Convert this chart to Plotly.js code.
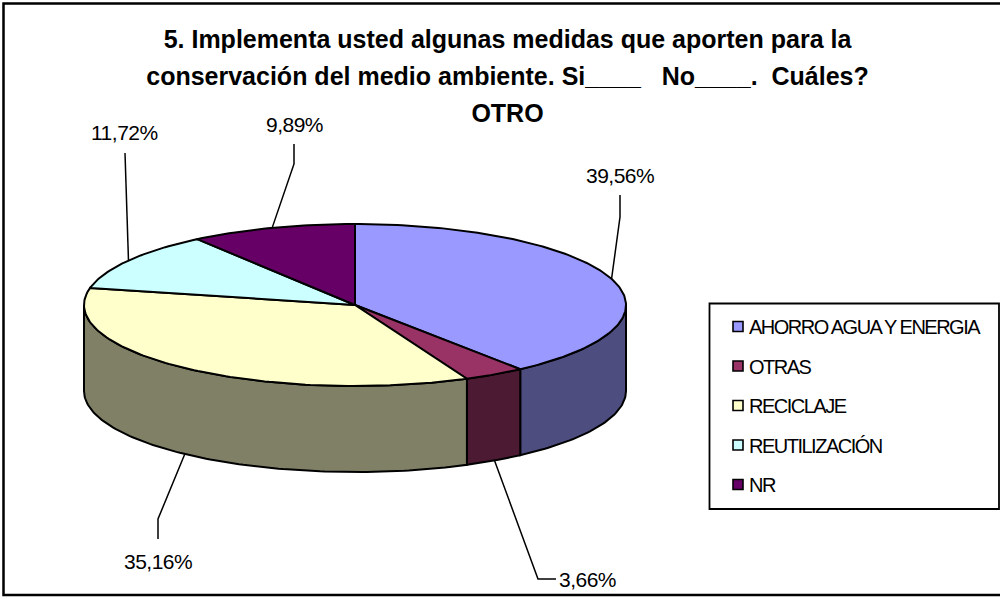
<!DOCTYPE html>
<html>
<head>
<meta charset="utf-8">
<script src="https://cdn.plot.ly/plotly-3.0.1.min.js"></script>
<style>
html,body{margin:0;padding:0;background:#fff;overflow:hidden}
.legendtext{letter-spacing:-1.5px;transform:translateX(-9px)}
.annotation-text{letter-spacing:-0.5px}
</style>
</head>
<body>
<div id="chart" style="width:1000px;height:599px"></div>
<script>
const categories = ["AHORRO AGUA Y ENERGIA","OTRAS","RECICLAJE","REUTILIZACIÓN","NR"];
const values = [39.56,3.66,35.16,11.72,9.89];
const topColors = ["#9999FF","#993366","#FFFFCC","#CCFFFF","#660066"];
const sideColors = ["#4D4D80","#4D1A33","#808066","#668080","#330033"];
const titleLines = ["5. Implementa usted algunas medidas que aporten para la",
  "conservación del medio ambiente. Si____   No____.  Cuáles?","OTRO"];

// pie projection, in pixels of the page
const cx=355, cy=305, rx=271, ry=81, depth=86;
// label placement: [label x, label y, leader top x, top y, elbow x, elbow y]
const labelPos = [[620,175,620,195,620,217],[587,579,556,579,538,579],[158,561,158,539,158,519],
                  [124.5,132,125,153,125,171],[294,124,294,144,294,164]];

const total = values.reduce((a,b)=>a+b,0);
const rad = d=>d*Math.PI/180;
const px = d=>cx+rx*Math.sin(rad(d));
const py = (d,z)=>cy-ry*Math.cos(rad(d))+(z||0);
function arc(a,b,z){const xs=[],ys=[];const n=Math.max(2,Math.ceil(Math.abs(b-a)));
  for(let i=0;i<=n;i++){const t=a+(b-a)*i/n;xs.push(px(t));ys.push(py(t,z));}return [xs,ys];}

const traces=[], shapes=[], annotations=[];
let start=0;
const spans=values.map(v=>{const s=[start,start+v/total*360];start=s[1];return s;});

// side walls
spans.forEach((s,i)=>{
  const a=Math.max(s[0],90), b=Math.min(s[1],270);
  if(b<=a) return;
  const t=arc(a,b,0), u=arc(b,a,depth);
  traces.push({type:"scatter",mode:"lines",x:t[0].concat(u[0],[t[0][0]]),y:t[1].concat(u[1],[t[1][0]]),
    fill:"toself",fillcolor:sideColors[i],line:{color:"#000",width:2},hoverinfo:"skip",showlegend:false});
});
// top faces
spans.forEach((s,i)=>{
  const t=arc(s[0],s[1],0);
  traces.push({type:"scatter",mode:"lines",x:[cx].concat(t[0],[cx]),y:[cy].concat(t[1],[cy]),
    fill:"toself",fillcolor:topColors[i],line:{color:"#000",width:2},hoverinfo:"skip",showlegend:false});
});
// leader lines and labels
spans.forEach((s,i)=>{
  const m=(s[0]+s[1])/2, z=(m>90&&m<270)?depth:0, p=labelPos[i];
  traces.push({type:"scatter",mode:"lines",x:[px(m),p[4],p[2]],y:[py(m,z),p[5],p[3]],
    line:{color:"#000",width:1.5},hoverinfo:"skip",showlegend:false});
  annotations.push({x:p[0],y:p[1],xref:"x",yref:"y",showarrow:false,xanchor:"center",yanchor:"middle",
    text:values[i].toFixed(2).replace(".",",")+"%",font:{family:"Liberation Sans",size:21,color:"#000"}});
});
// legend entries
categories.forEach((c,i)=>{
  traces.push({type:"scatter",mode:"markers",x:[null],y:[null],name:c,legendgroup:c,
    marker:{symbol:"square",size:10,color:topColors[i],line:{color:"#000",width:1.6}},hoverinfo:"skip"});
});
// chart frame and legend frame
shapes.push({type:"rect",xref:"x",yref:"y",x0:3.5,x1:1010,y0:3.5,y1:595,line:{color:"#000",width:2.5},layer:"below"});
shapes.push({type:"rect",xref:"x",yref:"y",x0:709.5,x1:999,y0:303.5,y1:509,line:{color:"#000",width:1.8},layer:"below"});

Plotly.newPlot("chart",traces,{
  width:1000,height:599,margin:{l:0,r:0,t:0,b:0,pad:0},
  paper_bgcolor:"#fff",plot_bgcolor:"#fff",
  title:{text:titleLines.map(l=>'<span style="font-size:25px">'+l+'</span>').join("<br>"),
    x:0.5075,xanchor:"center",xref:"paper",y:1-48/599,yanchor:"middle",yref:"container",
    font:{family:"Liberation Sans",size:28.5,color:"#000",weight:"bold"}},
  xaxis:{range:[0,1000],visible:false,fixedrange:true},
  yaxis:{range:[599,0],visible:false,fixedrange:true},
  showlegend:true,
  legend:{x:0.718,xanchor:"left",y:1-307/599,yanchor:"top",bgcolor:"rgba(0,0,0,0)",borderwidth:0,
    tracegroupgap:10.5,font:{family:"Liberation Sans",size:20,color:"#000"},itemclick:false,itemdoubleclick:false},
  shapes:shapes,annotations:annotations
},{displayModeBar:false,staticPlot:true});
</script>
</body>
</html>
